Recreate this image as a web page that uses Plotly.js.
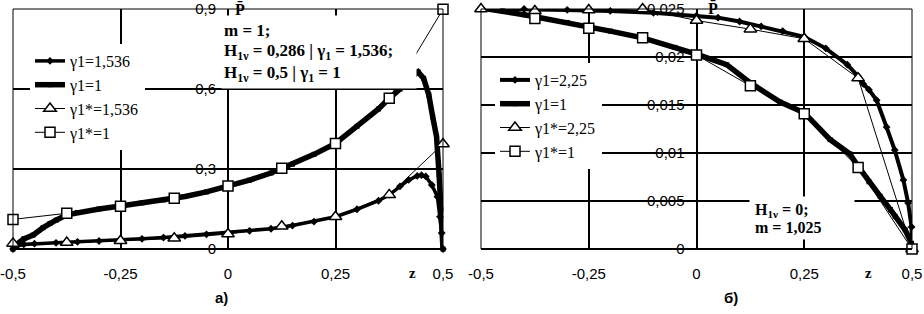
<!DOCTYPE html>
<html>
<head>
<meta charset="utf-8">
<script src="https://cdn.plot.ly/plotly-3.0.1.min.js"></script>
<style>html,body{margin:0;padding:0;background:#fff;}#chart{width:924px;height:314px;}</style>
</head>
<body>
<div id="chart"></div>
<script>
// ---------- data ----------
// Panel a)
const zMarkers = [-0.5, -0.375, -0.25, -0.125, 0, 0.125, 0.25, 0.375, 0.5];
const aStar1536 = [0.021, 0.024, 0.031, 0.040, 0.056, 0.085, 0.121, 0.203, 0.394];
const aStar1 = [0.111, 0.134, 0.160, 0.190, 0.236, 0.303, 0.396, 0.565, 0.899];

const aZ1536 = [-0.5, -0.49, -0.475, -0.45, -0.4, -0.35, -0.3, -0.25, -0.2, -0.15, -0.1, -0.05, 0, 0.05, 0.1, 0.15, 0.2, 0.25, 0.3, 0.35, 0.375, 0.4, 0.42, 0.44, 0.45, 0.46, 0.474, 0.487, 0.493, 0.497, 0.5];
const aP1536 = [0, 0.012, 0.017, 0.020, 0.023, 0.027, 0.030, 0.034, 0.038, 0.043, 0.049, 0.055, 0.062, 0.068, 0.076, 0.088, 0.103, 0.121, 0.149, 0.181, 0.203, 0.235, 0.259, 0.274, 0.277, 0.272, 0.240, 0.196, 0.121, 0.060, 0];

const aZ1 = [-0.5, -0.49, -0.475, -0.453, -0.43, -0.414, -0.4, -0.375, -0.35, -0.3, -0.25, -0.2, -0.15, -0.1, -0.05, 0, 0.05, 0.1, 0.15, 0.2, 0.25, 0.3, 0.35, 0.375, 0.4, 0.42, 0.442, 0.455, 0.467, 0.476, 0.485, 0.491, 0.495, 0.5];
const aP1 = [0, 0.020, 0.038, 0.0525, 0.080, 0.096, 0.108, 0.128, 0.137, 0.150, 0.161, 0.173, 0.184, 0.197, 0.214, 0.235, 0.258, 0.285, 0.318, 0.355, 0.396, 0.460, 0.525, 0.565, 0.600, 0.635, 0.664, 0.640, 0.578, 0.496, 0.421, 0.2775, 0.150, 0];

// Panel б)
const bStar225 = [0.0250, 0.0248, 0.0249, 0.0250, 0.0238, 0.0229, 0.0219, 0.0178, 0];
const bStar1 = [0.0252, 0.0240, 0.0230, 0.0220, 0.0202, 0.0170, 0.0141, 0.0085, 0];

const bZ225 = [-0.5, -0.4, -0.3, -0.25, -0.2, -0.1, 0, 0.05, 0.1, 0.15, 0.2, 0.25, 0.3, 0.35, 0.375, 0.387, 0.4, 0.418, 0.441, 0.46, 0.48, 0.491, 0.499, 0.5];
const bP225 = [0.0251, 0.0250, 0.0249, 0.0249, 0.0248, 0.0246, 0.0243, 0.0241, 0.0237, 0.0232, 0.0227, 0.0221, 0.0209, 0.0192, 0.0180, 0.0172, 0.0166, 0.0155, 0.0127, 0.0103, 0.0072, 0.0048, 0.0023, 0];

const bZ1 = [-0.5, -0.45, -0.4, -0.375, -0.3, -0.25, -0.2, -0.125, -0.05, 0, 0.07, 0.125, 0.194, 0.25, 0.31, 0.356, 0.375, 0.4, 0.426, 0.45, 0.461, 0.484, 0.499, 0.5];
const bP1 = [0.0251, 0.0248, 0.0244, 0.0242, 0.0236, 0.0231, 0.0227, 0.0220, 0.0210, 0.0203, 0.0192, 0.0173, 0.0153, 0.0142, 0.0114, 0.0099, 0.0086, 0.0070, 0.0055, 0.0041, 0.0034, 0.0020, 0.0006, 0];

// ticks and labels
const xTickVals = [-0.5, -0.25, 0, 0.25, 0.5];
const xTickText = ['-0,5', '-0,25', '0', '0,25', '0,5'];
const yTickValsA = [0, 0.3, 0.6, 0.9];
const yTickTextA = ['0', '0,3', '0,6', '0,9'];
const yTickValsB = [0, 0.005, 0.01, 0.015, 0.02, 0.025];
const yTickTextB = ['0', '0,005', '0,01', '0,015', '0,02', '0,025'];
const legendA = ['γ1=1,536', 'γ1=1', 'γ1*=1,536', 'γ1*=1'];
const legendB = ['γ1=2,25', 'γ1=1', 'γ1*=2,25', 'γ1*=1'];
const noteA = ['m = 1;', 'H<sub>1ν</sub> = 0,286 | γ<sub>1</sub> = 1,536;', 'H<sub>1ν</sub> = 0,5 | γ<sub>1</sub> = 1'];
const noteB = ['H<sub>1ν</sub> = 0;', 'm = 1,025'];

// ---------- layout helpers ----------
const W = 924, H = 314;
const px = v => v / W;
const py = v => 1 - v / H;
const xdA = [px(13), px(443)];
const xdB = [px(481), px(912)];
const yd = [py(249), py(9)];

function dense(x, y, name, xa, ya, leg, sym, size, lw) {
  return {x, y, name, xaxis: xa, yaxis: ya, legend: leg, mode: 'lines+markers', cliponaxis: false,
    line: {color: '#000', width: lw}, marker: {symbol: sym, size: size, color: '#000'}};
}
function sparse(x, y, name, xa, ya, leg, sym, size) {
  return {x, y, name, xaxis: xa, yaxis: ya, legend: leg, mode: 'lines+markers', cliponaxis: false,
    line: {color: '#000', width: 1}, marker: {symbol: sym, size: size, color: '#fff', line: {color: '#000', width: 1.5}}};
}

const traces = [
  dense(aZ1536, aP1536, legendA[0], 'x', 'y', 'legend', 'diamond', 6, 3.5),
  dense(aZ1, aP1, legendA[1], 'x', 'y', 'legend', 'square', 5, 5.5),
  sparse(zMarkers, aStar1536, legendA[2], 'x', 'y', 'legend', 'triangle-up', 11),
  sparse(zMarkers, aStar1, legendA[3], 'x', 'y', 'legend', 'square', 10),
  dense(bZ225, bP225, legendB[0], 'x2', 'y2', 'legend2', 'diamond', 6, 4),
  dense(bZ1, bP1, legendB[1], 'x2', 'y2', 'legend2', 'square', 5, 5.5),
  sparse(zMarkers, bStar225, legendB[2], 'x2', 'y2', 'legend2', 'triangle-up', 11),
  sparse(zMarkers, bStar1, legendB[3], 'x2', 'y2', 'legend2', 'square', 10)
];

const tickFont = {family: 'Liberation Sans, Arial, sans-serif', size: 15, color: '#000'};
function xAxis(domain, anchor) {
  return {domain, anchor, range: [-0.5, 0.5], tickmode: 'array', tickvals: xTickVals, ticktext: xTickText,
    showgrid: true, gridcolor: '#000', gridwidth: 2, zeroline: false, showline: false, ticks: '',
    tickfont: tickFont, ticklabelstandoff: 14, fixedrange: true};
}
function yAxis(range, vals, text, xdom) {
  return {domain: yd, anchor: 'free', position: xdom[0] + (xdom[1] - xdom[0]) * 0.5, range,
    tickmode: 'array', tickvals: vals, ticktext: text, showgrid: true, gridcolor: '#000', gridwidth: 2,
    zeroline: false, showline: false, ticks: '', tickfont: tickFont, ticklabelstandoff: 12, fixedrange: true};
}

const serifBold = (s) => ({family: 'Liberation Serif, Times New Roman, serif', size: s, color: '#000', weight: 'bold'});
const legendFont = {family: 'Liberation Serif, Times New Roman, serif', size: 16, color: '#000'};

function noteLine(text, x, yTop, size) {
  return {xref: 'paper', yref: 'paper', x: px(x), y: py(yTop), xanchor: 'left', yanchor: 'top',
    showarrow: false, bgcolor: '#fff', borderpad: 0, font: serifBold(size), text};
}

const annotations = [
  // white box behind the panel a) note
  {xref: 'paper', yref: 'paper', x: px(221), y: py(15), xanchor: 'left', yanchor: 'top', showarrow: false,
    bgcolor: '#fff', borderpad: 0, font: {size: 10, color: '#fff'}, width: 194, height: 72, text: ' '},
  noteLine(noteA[0], 223, 20, 17),
  noteLine(noteA[1], 223, 40, 17),
  noteLine(noteA[2], 223, 62, 17),
  // white box behind the panel б) note
  {xref: 'paper', yref: 'paper', x: px(749), y: py(196), xanchor: 'left', yanchor: 'top', showarrow: false,
    bgcolor: '#fff', borderpad: 0, font: {size: 10, color: '#fff'}, width: 104, height: 42, text: ' '},
  noteLine(noteB[0], 754, 200, 16),
  noteLine(noteB[1], 754, 218, 16),
  {xref: 'paper', yref: 'paper', x: px(240), y: py(9), xanchor: 'center', yanchor: 'middle', showarrow: false,
    font: serifBold(16), text: 'P̄'},
  {xref: 'paper', yref: 'paper', x: px(713), y: py(8), xanchor: 'center', yanchor: 'middle', showarrow: false,
    font: serifBold(16), text: 'P̄'},
  {xref: 'paper', yref: 'paper', x: px(412), y: py(273), xanchor: 'center', yanchor: 'middle', showarrow: false,
    font: serifBold(15), text: 'z'},
  {xref: 'paper', yref: 'paper', x: px(868), y: py(273), xanchor: 'center', yanchor: 'middle', showarrow: false,
    font: serifBold(15), text: 'z'},
  {xref: 'paper', yref: 'paper', x: px(221), y: py(297), xanchor: 'center', yanchor: 'middle', showarrow: false,
    font: {family: 'Liberation Sans, Arial, sans-serif', size: 15, color: '#000', weight: 'bold'}, text: 'а)'},
  {xref: 'paper', yref: 'paper', x: px(731), y: py(297), xanchor: 'center', yanchor: 'middle', showarrow: false,
    font: {family: 'Liberation Sans, Arial, sans-serif', size: 15, color: '#000', weight: 'bold'}, text: 'б)'}
];

const layout = {
  width: W, height: H, margin: {l: 0, r: 0, t: 0, b: 0},
  paper_bgcolor: '#fff', plot_bgcolor: '#fff', showlegend: true,
  xaxis: xAxis(xdA, 'y'),
  yaxis: yAxis([0, 0.9], yTickValsA, yTickTextA, xdA),
  xaxis2: xAxis(xdB, 'y2'),
  yaxis2: yAxis([0, 0.025], yTickValsB, yTickTextB, xdB),
  legend: {x: px(30), y: py(44), xanchor: 'left', yanchor: 'top', bgcolor: '#fff', borderwidth: 0,
    font: legendFont},
  legend2: {x: px(495), y: py(63), xanchor: 'left', yanchor: 'top', bgcolor: '#fff', borderwidth: 0,
    font: legendFont},
  shapes: [
    {type: 'rect', xref: 'x domain', yref: 'y domain', x0: 0, x1: 1, y0: 0, y1: 1, line: {color: '#000', width: 1}},
    {type: 'line', xref: 'x domain', yref: 'y domain', x0: 0, x1: 1, y0: 0, y1: 0, line: {color: '#000', width: 2}},
    {type: 'rect', xref: 'x2 domain', yref: 'y2 domain', x0: 0, x1: 1, y0: 0, y1: 1, line: {color: '#000', width: 1}},
    {type: 'line', xref: 'x2 domain', yref: 'y2 domain', x0: 0, x1: 1, y0: 0, y1: 0, line: {color: '#000', width: 2}}
  ],
  annotations
};

Plotly.newPlot('chart', traces, layout, {displayModeBar: false, staticPlot: true});
</script>
</body>
</html>
